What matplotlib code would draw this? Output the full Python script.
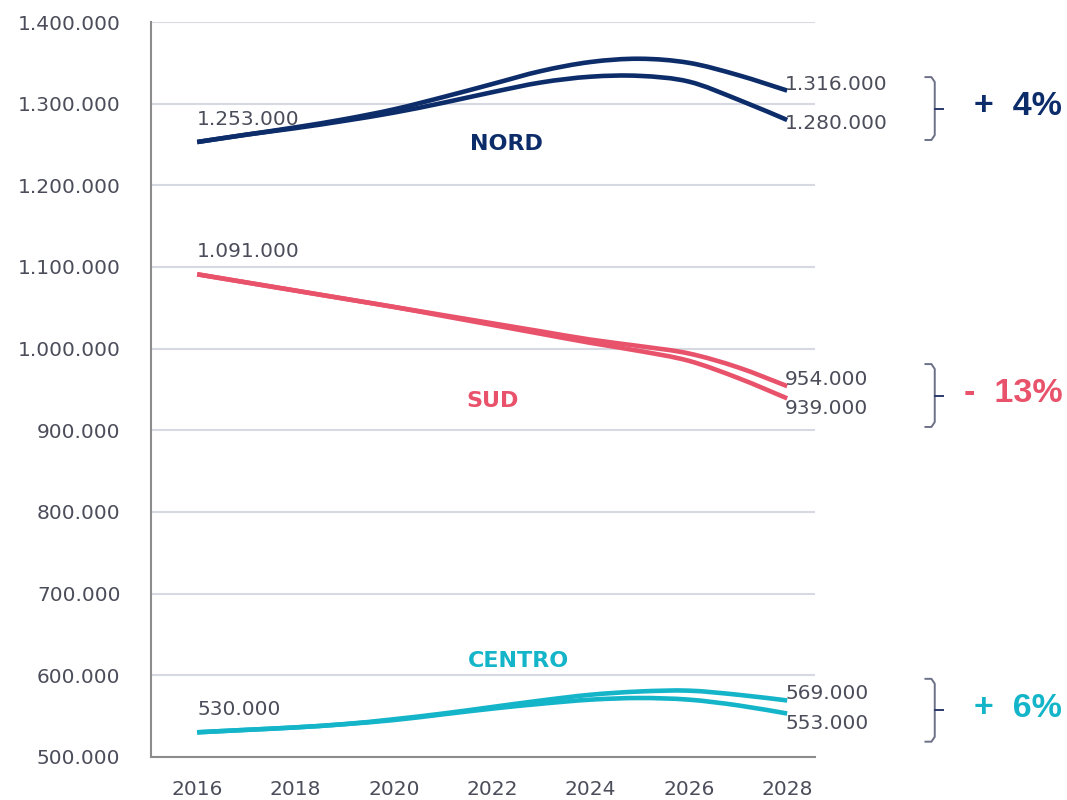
import matplotlib
matplotlib.use("Agg")
import matplotlib.pyplot as plt
from matplotlib.path import Path
from matplotlib.patches import PathPatch
from matplotlib.ticker import FuncFormatter, MultipleLocator

plt.rcParams['font.family'] = ['DejaVu Sans']

years = list(range(2016, 2029))

# two scenarios per area
nord_hi = [1253000, 1262000, 1271000, 1281000, 1293000, 1308000, 1324000,
           1340000, 1351000, 1355000, 1350000, 1335000, 1316000]
nord_lo = [1253000, 1262000, 1270000, 1279000, 1289000, 1301000, 1314000,
           1326000, 1333000, 1334000, 1327000, 1305000, 1280000]
sud_hi = [1091000, 1081000, 1071000, 1061000, 1051000, 1041000, 1031000,
          1021000, 1011000, 1003000, 994000, 977000, 954000]
sud_lo = [1091000, 1081000, 1071000, 1061000, 1051000, 1040000, 1029000,
          1018000, 1007000, 997000, 985000, 964000, 939000]
centro_hi = [530000, 533000, 536000, 540000, 546000, 553000, 561000,
             569000, 576000, 580000, 581000, 576000, 569000]
centro_lo = [530000, 533000, 536000, 540000, 545000, 552000, 559000,
             565000, 570000, 572000, 570000, 563000, 553000]

areas = ['NORD', 'SUD', 'CENTRO']
changes = ['+  4%', '-  13%', '+  6%']
colors = ['#0c2c6a', '#e8526a', '#14b4c9']
series = [(nord_hi, nord_lo), (sud_hi, sud_lo), (centro_hi, centro_lo)]
# where the area name sits (year, value)
name_pos = [(2022.28, 1250000), (2022.0, 936000), (2022.53, 617000)]

txt_col = '#4b4d5a'
fmt = lambda v: f"{v:,.0f}".replace(",", ".")


def smooth_path(xs, ys):
    # Catmull-Rom through the points, as cubic bezier segments
    verts = [(xs[0], ys[0])]
    codes = [Path.MOVETO]
    n = len(xs)
    for i in range(n - 1):
        x0, y0 = (xs[i - 1], ys[i - 1]) if i > 0 else (xs[i], ys[i])
        x1, y1 = xs[i], ys[i]
        x2, y2 = xs[i + 1], ys[i + 1]
        x3, y3 = (xs[i + 2], ys[i + 2]) if i + 2 < n else (x2, y2)
        verts += [(x1 + (x2 - x0) / 6, y1 + (y2 - y0) / 6),
                  (x2 - (x3 - x1) / 6, y2 - (y3 - y1) / 6),
                  (x2, y2)]
        codes += [Path.CURVE4] * 3
    return Path(verts, codes)


fig = plt.figure(figsize=(10.67, 8.0), dpi=100)
ax = fig.add_axes([0.1415, 0.054, 0.6225, 0.9185])

for (hi, lo), c in zip(series, colors):
    for ys in (hi, lo):
        ax.add_patch(PathPatch(smooth_path(years, ys), fill=False,
                               edgecolor=c, lw=3.3, capstyle='butt', zorder=3))

ax.set_xlim(2015.06, 2028.57)
ax.set_ylim(500000, 1400000)
ax.yaxis.set_major_locator(MultipleLocator(100000))
ax.xaxis.set_major_locator(MultipleLocator(2))
ax.yaxis.set_major_formatter(FuncFormatter(lambda v, p: fmt(v)))
ax.grid(axis='y', color='#d6d9e2', lw=1.5)
ax.set_axisbelow(True)
for s in ['top', 'right']:
    ax.spines[s].set_visible(False)
for s in ['left', 'bottom']:
    ax.spines[s].set_color('#8c8c8c')
    ax.spines[s].set_linewidth(1.5)
ax.tick_params(length=0, labelsize=14.5, colors=txt_col)
ax.tick_params(axis='y', pad=22)
ax.tick_params(axis='x', pad=17)

trans = ax.get_yaxis_transform()
for i, ((hi, lo), c) in enumerate(zip(series, colors)):
    # start value
    ax.text(years[0], hi[0] + 16000, fmt(hi[0]), fontsize=14.5, color=txt_col,
            ha='left', va='bottom')
    # end values
    y_hi = hi[-1] + 8000
    y_lo = min(lo[-1] - 4000, y_hi - 36000)
    ax.text(years[-1] - 0.04, y_hi, fmt(hi[-1]), fontsize=14.5,
            color=txt_col, ha='left', va='center', clip_on=False)
    ax.text(years[-1] - 0.04, y_lo, fmt(lo[-1]), fontsize=14.5,
            color=txt_col, ha='left', va='center', clip_on=False)
    # area name
    nx, ny = name_pos[i]
    ax.text(nx, ny, areas[i], fontsize=16, fontweight='bold', color=c,
            ha='center', va='center')
    # brace
    mid = (hi[-1] + lo[-1]) / 2 - 4000
    h = 38500
    bx = 1.18
    ax.plot([bx - 0.014, bx - 0.005, bx, bx, bx - 0.005, bx - 0.014],
            [mid + h, mid + h, mid + h - 6000, mid - h + 6000, mid - h, mid - h],
            transform=trans, color='#6b7087', lw=1.4, clip_on=False)
    ax.plot([bx, bx + 0.012], [mid, mid], transform=trans, color='#2c3a6a',
            lw=1.4, clip_on=False)
    ax.text(1.372, mid + 2500, changes[i], transform=trans, fontsize=24.5,
            fontweight='bold', color=c, ha='right', va='center',
            family='Liberation Sans')

fig.savefig('out.png', dpi=100)
